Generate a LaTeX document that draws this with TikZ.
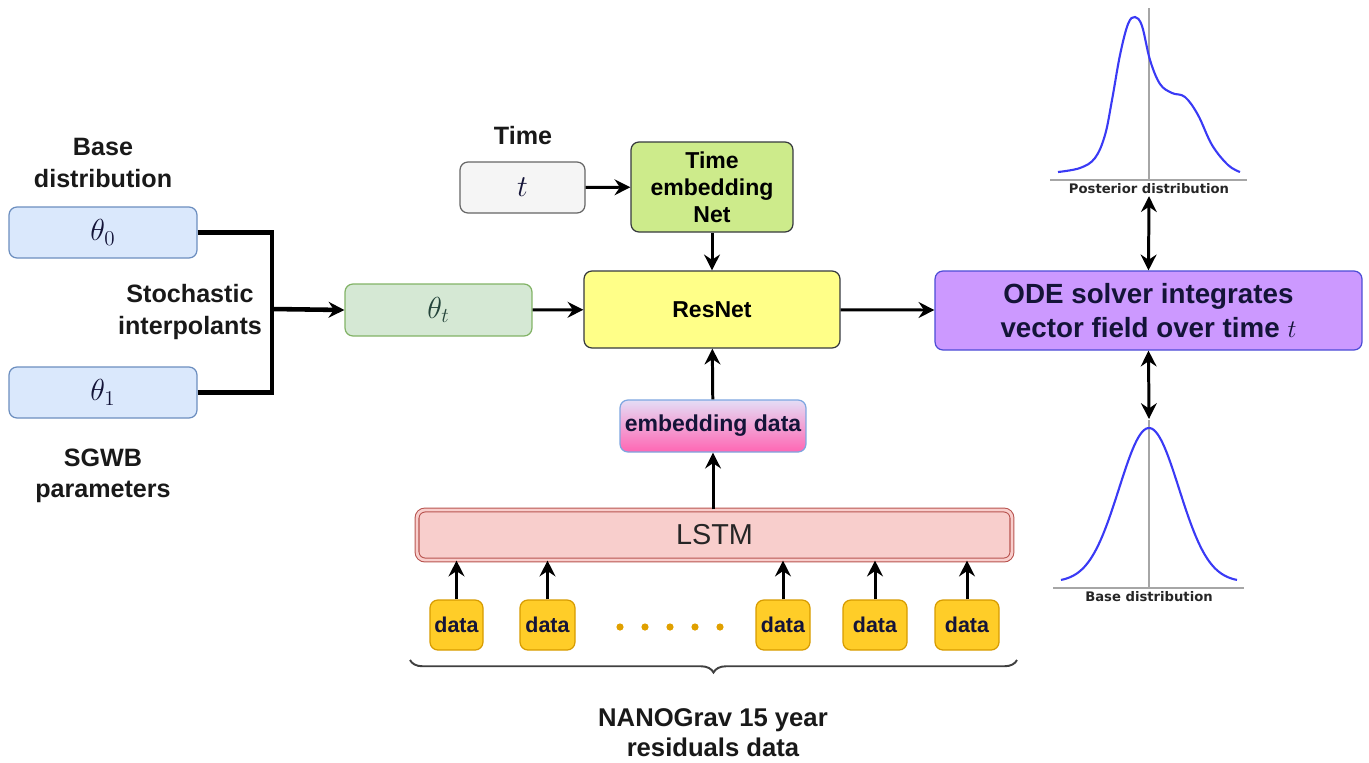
\documentclass[tikz,border=0pt]{standalone}
\usepackage{fontspec}
\setmainfont{Liberation Sans}
\newfontfamily\plotfont{DejaVu Sans}
\usepackage{amsmath}
\usetikzlibrary{arrows.meta, decorations.pathreplacing}

\definecolor{blfill}{HTML}{DAE8FC}
\definecolor{bldraw}{HTML}{6C8EBF}
\definecolor{grfill}{HTML}{D5E8D4}
\definecolor{grdraw}{HTML}{82B366}
\definecolor{tfill}{HTML}{F5F5F5}
\definecolor{tdraw}{HTML}{666666}
\definecolor{tenfill}{HTML}{CDEB8B}
\definecolor{darkdraw}{HTML}{36393D}
\definecolor{resfill}{HTML}{FFFF88}
\definecolor{odefill}{HTML}{CC99FF}
\definecolor{odedraw}{HTML}{4C4CD6}
\definecolor{embtop}{HTML}{E4DDF6}
\definecolor{embbot}{HTML}{FF66B3}
\definecolor{embdraw}{HTML}{7EA6E0}
\definecolor{lstmfill}{HTML}{F8CECC}
\definecolor{lstmdraw}{HTML}{B85450}
\definecolor{datafill}{HTML}{FFCD28}
\definecolor{datadraw}{HTML}{D79B00}
\definecolor{dotcol}{HTML}{E0A000}
\definecolor{boxtxt}{HTML}{141438}
\definecolor{thtxt}{HTML}{24443A}
\definecolor{axisgray}{HTML}{A6A6A6}
\definecolor{curveblue}{HTML}{3A3AF5}

\tikzset{
	box/.style={draw, rounded corners=4.5pt, line width=0.7pt, align=center, inner sep=0pt},
	lbl/.style={align=center, text=black!90, font=\bfseries\fontsize{14.3}{18}\selectfont},
	boxfont/.style={font=\bfseries\fontsize{13.1}{15.4}\selectfont, text=boxtxt},
	mathfont/.style={font=\fontsize{17}{20}\selectfont},
	arr/.style={line width=1.7pt, -{Stealth[length=9pt,width=9pt,inset=3pt]}},
	darr/.style={line width=1.7pt, {Stealth[length=9pt,width=9pt,inset=3pt]}-{Stealth[length=9pt,width=9pt,inset=3pt]}},
	axisline/.style={draw=axisgray, line width=1.1pt},
	curve/.style={draw=curveblue, line width=1.2pt},
	plotlbl/.style={font=\plotfont\bfseries\fontsize{7.5}{9}\selectfont, text=black!85, inner sep=1pt},
	databox/.style={box, fill=datafill, draw=datadraw, minimum height=1cm, font=\bfseries\fontsize{12.2}{14}\selectfont, text=boxtxt},
}

\begin{document}
\begin{tikzpicture}[x=0.02cm, y=-0.02cm]
	\useasboundingbox (0,0) rectangle (1369,762);

	\node[lbl] (baselbl) at (103,163) {Base\\distribution};
	\node[box, fill=blfill, draw=bldraw, minimum width=3.76cm, minimum height=1.02cm, mathfont, text=boxtxt] (th0) at (103,232.5) {$\theta_0$};
	\node[box, fill=blfill, draw=bldraw, minimum width=3.76cm, minimum height=1.02cm, mathfont, text=boxtxt] (th1) at (103,392.5) {$\theta_1$};
	\node[lbl] (sgwblbl) at (103,476) {SGWB\\parameters};
	\node[lbl] (stochlbl) at (190,312) {Stochastic\\interpolants};
	\coordinate (mrg) at (272,309);
	\draw[line width=2.6pt] (th0.east) -| (mrg);
	\draw[line width=2.6pt] (th1.east) -| (mrg);

	\node[box, fill=grfill, draw=grdraw, minimum width=3.74cm, minimum height=1.04cm, mathfont, text=thtxt] (tht) at (438.5,310) {$\theta_t$};
	\draw[arr, line width=2.6pt] (mrg) -- (tht.west);

	\node[lbl] (timelbl) at (523,136) {Time};
	\node[box, fill=tfill, draw=tdraw, minimum width=2.5cm, minimum height=1.02cm, mathfont, text=boxtxt] (tin) at (522.5,187.5) {$t$};
	\node[box, fill=tenfill, draw=darkdraw, minimum width=3.24cm, minimum height=1.8cm, boxfont, text=black] (ten) at (712,187) {Time\\embedding\\Net};
	\node[box, fill=resfill, draw=darkdraw, minimum width=5.12cm, minimum height=1.54cm, boxfont, text=black] (res) at (712,309.5) {ResNet};
	\node[box, fill=odefill, draw=odedraw, minimum width=8.54cm, minimum height=1.58cm, text=boxtxt, font=\bfseries\fontsize{15.8}{19}\selectfont] (ode) at (1148.5,310.5) {ODE solver integrates\\vector field over time $t$};

	\draw[arr] (tin) -- (ten);
	\draw[arr] (ten) -- (res);
	\draw[arr] (tht) -- (res);
	\draw[arr] (res) -- (ode);

	\node[box, top color=embtop, bottom color=embbot, draw=embdraw, minimum width=3.72cm, minimum height=1.04cm, boxfont] (emb) at (713,426) {embedding data};
	\node[box, fill=lstmfill, draw=lstmdraw, line width=0.6pt, double=lstmfill, double distance=1.6pt, minimum width=11.9cm, minimum height=1cm, font=\fontsize{16.4}{19}\selectfont, text=black!85] (lstm) at (714.5,535) {LSTM};
	\draw[arr] (emb) -- (res);
	\draw[arr] (lstm.north -| emb) -- (emb);

	\foreach \xx/\ww [count=\i] in {456.5/1.06, 547.5/1.1, 783/1.08, 875/1.28, 967/1.28} {
		\node[databox, minimum width=\ww cm] (d\i) at (\xx,625) {data};
		\draw[arr] (d\i) -- (d\i |- lstm.south);
	}
	\foreach \xx in {620,645,670,695,720}
		\fill[dotcol] (\xx,627) circle[radius=3.6];

	\draw[decorate, decoration={brace, amplitude=0.25cm}, line width=1.1pt, draw=black!75] (1017,660) -- (410,660);
	\node[lbl, font=\bfseries\fontsize{14.6}{17}\selectfont] (nanolbl) at (713,733) {NANOGrav 15 year\\residuals data};

	\draw[axisline] (1050,180) -- (1247,180);
	\draw[axisline] (1149,8) -- (1149,180);
	\draw[curve] plot[smooth, tension=0.6] coordinates {(1058,172) (1080,168) (1095,158) (1105,135) (1112,100) (1120,55) (1128,24) (1135,17) (1142,26) (1150,60) (1160,84) (1172,93) (1185,97) (1198,115) (1212,145) (1228,165) (1240,172)};
	\node[plotlbl] (postlbl) at (1149,189) {Posterior distribution};

	\draw[axisline] (1053,588) -- (1244,588);
	\draw[axisline] (1149,420) -- (1149,588);
	\draw[curve] plot[domain=1061:1237, samples=90] (\x, {582-154*exp(-0.5*((\x-1149)/30)^2)});
	\node[plotlbl] (baseplbl) at (1149,597) {Base distribution};
	\coordinate (basetop) at (1149,419);

	\draw[darr] (postlbl.south) -- (ode.north);
	\draw[darr] (ode.south) -- (basetop);
\end{tikzpicture}
\end{document}
